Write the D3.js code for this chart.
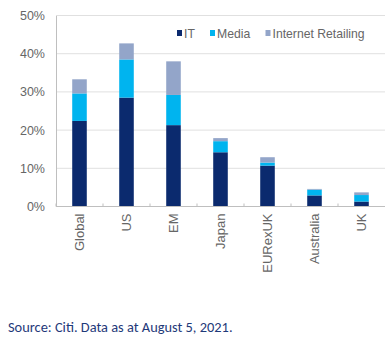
<!DOCTYPE html>
<html>
<head>
<meta charset="utf-8">
<script src="https://cdn.jsdelivr.net/npm/d3@7"></script>
<style>
  body { margin: 0; background: #fff; }
  svg { display: block; }
</style>
</head>
<body>
<div id="chart"></div>
<script>
// categories and series (percent)
var categories = ["Global", "US", "EM", "Japan", "EURexUK", "Australia", "UK"];
var itValues = [22.4, 28.5, 21.3, 14.2, 10.7, 2.9, 1.3];
var mediaValues = [7.2, 10.0, 7.9, 2.9, 0.8, 1.5, 1.7];
var retailValues = [3.7, 4.2, 8.8, 0.8, 1.4, 0.2, 0.7];
var seriesNames = ["IT", "Media", "Internet Retailing"];
var seriesColors = ["#0b2a6e", "#00b4ef", "#93a5c9"];
var yTicks = [0, 10, 20, 30, 40, 50];

var width = 385, height = 350;
var margin = {left: 56, top: 15.5, bottom: 143.5};

var svg = d3.select("#chart").append("svg")
  .attr("width", width)
  .attr("height", height);

var x = d3.scaleBand()
  .domain(categories)
  .range([margin.left, margin.left + 7 * 47])
  .paddingInner(0.69)
  .paddingOuter(0.345);

var y = d3.scaleLinear()
  .domain([0, 50])
  .range([height - margin.bottom, margin.top]);

// gridlines
svg.selectAll(".grid")
  .data(yTicks.slice(1))
  .enter()
  .append("line")
  .attr("x1", margin.left)
  .attr("x2", width)
  .attr("y1", function(d) { return y(d); })
  .attr("y2", function(d) { return y(d); })
  .attr("stroke", "#e0e0e0")
  .attr("stroke-width", 1);

// stacked data
var table = categories.map(function(c, i) {
  return {cat: c, "IT": itValues[i], "Media": mediaValues[i], "Internet Retailing": retailValues[i]};
});
var stacked = d3.stack().keys(seriesNames)(table);

svg.selectAll(".layer")
  .data(stacked)
  .enter()
  .append("g")
  .attr("fill", function(d, i) { return seriesColors[i]; })
  .selectAll("rect")
  .data(function(d) { return d; })
  .enter()
  .append("rect")
  .attr("x", function(d) { return x(d.data.cat); })
  .attr("width", x.bandwidth())
  .attr("y", function(d) { return y(d[1]); })
  .attr("height", function(d) { return y(d[0]) - y(d[1]); });

// y axis
var yAxis = svg.append("g")
  .attr("transform", "translate(" + margin.left + ",0)")
  .call(d3.axisLeft(y).tickValues(yTicks).tickSize(0).tickPadding(11)
    .tickFormat(function(d) { return d + "%"; }));
yAxis.select(".domain").attr("stroke", "#bfbfbf");
yAxis.selectAll("text")
  .attr("fill", "#666")
  .style("font-family", "Arial, 'Liberation Sans', sans-serif")
  .style("font-size", "12.5px");

// x axis line and inner ticks between categories
svg.append("line")
  .attr("x1", margin.left)
  .attr("x2", width)
  .attr("y1", y(0))
  .attr("y2", y(0))
  .attr("stroke", "#bfbfbf");

svg.selectAll(".xtick")
  .data(categories)
  .enter()
  .append("line")
  .attr("x1", function(d) { return x(d) - x.step() * x.paddingInner() / 2; })
  .attr("x2", function(d) { return x(d) - x.step() * x.paddingInner() / 2; })
  .attr("y1", y(0))
  .attr("y2", y(0) - 3)
  .attr("stroke", "#bfbfbf");

// rotated category labels
svg.selectAll(".xlabel")
  .data(categories)
  .enter()
  .append("text")
  .attr("transform", function(d) {
    return "translate(" + (x(d) + x.bandwidth() / 2 + 4.5) + "," + (y(0) + 7) + ") rotate(-90)";
  })
  .attr("text-anchor", "end")
  .attr("fill", "#666")
  .style("font-family", "Arial, 'Liberation Sans', sans-serif")
  .style("font-size", "13px")
  .text(function(d) { return d; });

// legend
var legendX = [177, 210, 265.5];
var legend = svg.selectAll(".legend")
  .data(seriesNames)
  .enter()
  .append("g")
  .attr("transform", function(d, i) { return "translate(" + legendX[i] + ",33)"; });
legend.append("rect")
  .attr("x", 0)
  .attr("y", -3)
  .attr("width", 5)
  .attr("height", 6)
  .attr("fill", function(d, i) { return seriesColors[i]; });
legend.append("text")
  .attr("x", 7)
  .attr("y", 4.5)
  .attr("fill", "#666")
  .style("font-family", "Arial, 'Liberation Sans', sans-serif")
  .style("font-size", "12.2px")
  .text(function(d) { return d; });

// source note
svg.append("text")
  .attr("x", 8)
  .attr("y", 332)
  .attr("fill", "#1f3a7a")
  .style("font-family", "Carlito, Calibri, Lato, sans-serif")
  .style("font-size", "14.4px")
  .text("Source: Citi. Data as at August 5, 2021.");
</script>
</body>
</html>
